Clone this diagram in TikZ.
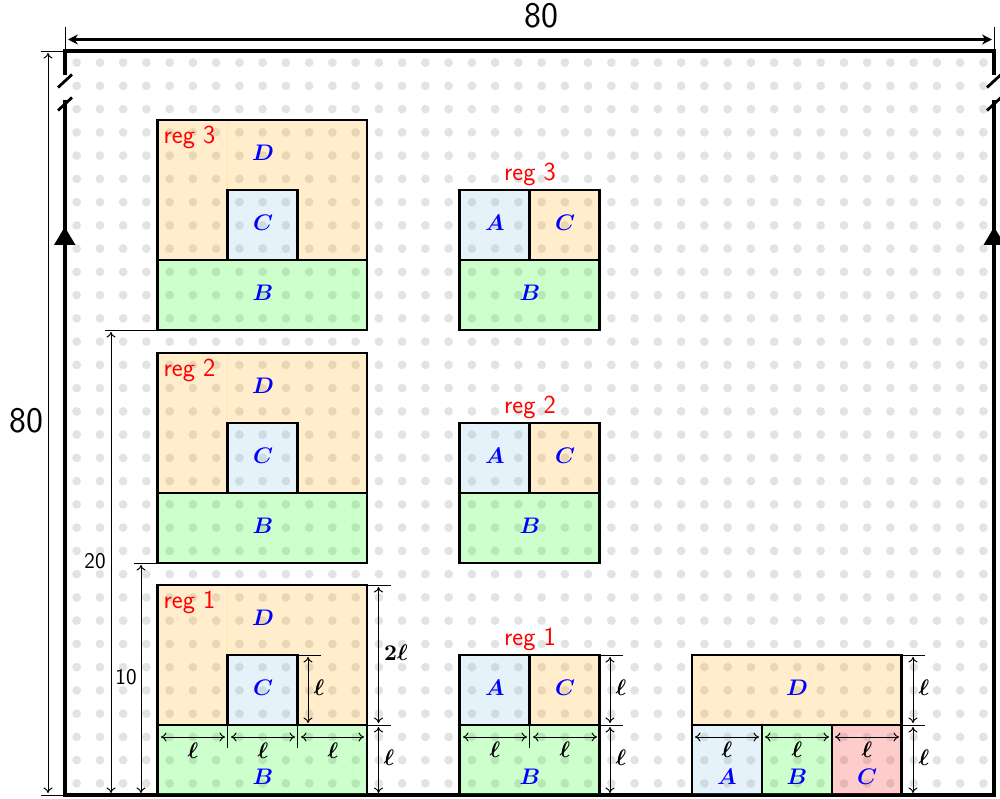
\documentclass[tikz,border=0pt]{standalone}
\usepackage{graphicx}
\usetikzlibrary{arrows.meta}
\definecolor{dotc}{HTML}{E3E3E3}
\definecolor{ablue}{RGB}{125,190,225}
\definecolor{aorange}{RGB}{255,165,0}
\tikzset{
  x=1pt,y=-1pt,
  frame/.style={line width=3.2pt,black},
  box/.style={draw=black,line width=2.1pt},
  fo/.style={fill=aorange,fill opacity=.2,draw=none},
  fb/.style={fill=ablue,fill opacity=.2,draw=none},
  fg/.style={fill=green,fill opacity=.2,draw=none},
  fr/.style={fill=red,fill opacity=.2,draw=none},
  ext/.style={line width=.9pt,black},
  dimen/.style={line width=1pt,black,{To[length=5.5pt,width=9pt]}-{To[length=5.5pt,width=9pt]}},
  big/.style={line width=2.4pt,black,{Stealth[length=10pt,width=10pt]}-{Stealth[length=10pt,width=10pt]}},
  let/.style={text=blue,font=\boldmath,inner sep=0pt},
  ell/.style={text=black,font=\boldmath,inner sep=0pt},
  reg/.style={text=red,font=\fontsize{26}{28}\selectfont\sffamily,inner sep=0pt},
  num/.style={text=black,font=\fontsize{22.5}{25}\selectfont\sffamily,inner sep=0pt},
  bignum/.style={text=black,font=\fontsize{36}{38}\selectfont\sffamily,inner sep=0pt},
}
\newcommand{\mbig}[1]{\scalebox{2.25}{$#1$}}
\newcommand{\wideblock}[3]{% #1 = label, #2 = top y, #3 = y offset of B
  \fill[fo] (157.5,#2) rectangle (227.5,#2+140);
  \fill[fo] (227.5,#2) rectangle (366.7,#2+70);
  \fill[fo] (297.5,#2+70) rectangle (366.7,#2+140);
  \fill[fb] (227.5,#2+70) rectangle (297.5,#2+140);
  \fill[fg] (157.5,#2+140) rectangle (366.7,#2+210);
  \draw[aorange!30,line width=.6pt] (227.5,#2) -- (227.5,#2+70);
  \draw[box] (157.5,#2) rectangle (366.7,#2+210);
  \draw[box] (157.5,#2+140) -- (366.7,#2+140);
  \draw[box] (227.5,#2+140) -- (227.5,#2+70) -- (297.5,#2+70) -- (297.5,#2+140);
  \node[reg] (w#1) at (189.5,#2+17) {reg #1};
  \node[let] (wd#1) at (263,#2+33) {\mbig{D}};
  \node[let] (wc#1) at (263,#2+103) {\mbig{C}};
  \node[let] (wb#1) at (263,#2+#3) {\mbig{B}};
}
\newcommand{\midblock}[3]{% #1 = label, #2 = top y, #3 = y offset of B
  \fill[fb] (459.5,#2) rectangle (529.5,#2+70);
  \fill[fo] (529.5,#2) rectangle (599.5,#2+70);
  \fill[fg] (459.5,#2+70) rectangle (599.5,#2+140);
  \draw[box] (459.5,#2) rectangle (599.5,#2+140);
  \draw[box] (459.5,#2+70) -- (599.5,#2+70);
  \draw[box] (529.5,#2) -- (529.5,#2+70);
  \node[reg] (m#1) at (530,#2-16) {reg #1};
  \node[let] (ma#1) at (495,#2+33) {\mbig{A}};
  \node[let] (mc#1) at (565,#2+33) {\mbig{C}};
  \node[let] (mb#1) at (530,#2+#3) {\mbig{B}};
}
\newcommand{\elllabel}[3]{\node[ell] (#1) at (#2,#3) {\mbig{\ell}};}
\begin{document}
\begin{tikzpicture}
\useasboundingbox (0,0) rectangle (1000,799);
\clip (0,0) rectangle (1000,799);
% dots
\foreach \i in {0,...,39}{
  \foreach \j in {0,...,31}{
    \fill[dotc] ({65+23.25*(\i+.5)},{51+23.25*(\j+.5)}) circle (4.4pt);
  }
}
% frame
\draw[frame] (65,75) -- (65,51) -- (994,51) -- (994,75);
\draw[frame] (65,100) -- (65,795) -- (994,795) -- (994,100);
\draw[line width=2.8pt] (58,87.5) -- (72,74.5);
\draw[line width=2.8pt] (58,110.5) -- (72,97.5);
\draw[line width=2.8pt] (987,87.5) -- (1001,74.5);
\draw[line width=2.8pt] (987,110.5) -- (1001,97.5);
\fill (54,245) -- (75.5,245) -- (64.7,227) -- cycle;
\fill (983.5,245) -- (1005,245) -- (994,227) -- cycle;
% outer dimensions
\draw[ext] (65,27) -- (65,51);
\draw[ext] (994,27) -- (994,51);
\draw[big] (68,39.5) -- (992,39.5);
\node[bignum] (top80) at (541,16) {80};
\draw[ext] (40.5,51) -- (65,51);
\draw[ext] (40.5,795) -- (65,795);
\draw[dimen] (48,53) -- (48,793);
\node[bignum] (left80) at (26,421) {80};
% blocks
\wideblock{3}{120}{173}
\wideblock{2}{353}{173}
\wideblock{1}{585}{192}
\midblock{3}{190}{103}
\midblock{2}{423}{103}
\midblock{1}{655}{122}
% right block
\fill[fo] (692,655) rectangle (901.5,725);
\fill[fb] (692,725) rectangle (762,795);
\fill[fg] (762,725) rectangle (832,795);
\fill[fr] (832,725) rectangle (901.5,795);
\draw[box] (692,655) rectangle (901.5,795);
\draw[box] (692,725) -- (901.5,725);
\draw[box] (762,725) -- (762,795);
\draw[box] (832,725) -- (832,795);
\node[let] (rd) at (797,688) {\mbig{D}};
\node[let] (ra) at (727,777) {\mbig{A}};
\node[let] (rb) at (797,777) {\mbig{B}};
\node[let] (rc) at (867,777) {\mbig{C}};
% dims: 20 and 10
\draw[ext] (105,330) -- (157.5,330);
\draw[dimen] (111,332) -- (111,793);
\draw[ext] (134,563) -- (157.5,563);
\draw[dimen] (141,565) -- (141,793);
\node[num] (n20) at (95,561) {20};
\node[num] (n10) at (126,677) {10};
% dims at wide block 1
\draw[ext] (366.7,585) -- (391,585);
\draw[ext] (366.7,725) -- (391,725);
\draw[dimen] (378.5,587) -- (378.5,723);
\draw[dimen] (378.5,727) -- (378.5,793);
\node[ell] (l2) at (396,653) {\mbig{2\ell}};
\elllabel{l3}{389}{758}
\draw[ext] (297.5,655) -- (321,655);
\draw[dimen] (308,657) -- (308,723);
\elllabel{l4}{319}{688}
\draw[ext,line width=1.5pt] (297.5,725) -- (297.5,748);
\draw[ext,line width=1.5pt] (227.5,725) -- (227.5,748);
\draw[dimen] (161,737) -- (225,737);
\draw[dimen] (231,737) -- (295,737);
\draw[dimen] (301,737) -- (364,737);
\elllabel{l5}{193}{751}
\elllabel{l6}{263}{751}
\elllabel{l7}{333}{751}
% dims at mid block 1
\draw[ext] (599.5,655) -- (623,655);
\draw[ext] (599.5,725) -- (623,725);
\draw[dimen] (610,657) -- (610,723);
\draw[dimen] (610,727) -- (610,793);
\elllabel{l8}{621}{688}
\elllabel{l9}{621}{758}
\draw[ext,line width=1.5pt] (529.5,725) -- (529.5,748);
\draw[dimen] (463,737) -- (527,737);
\draw[dimen] (533,737) -- (597,737);
\elllabel{l10}{495}{750}
\elllabel{l11}{565}{750}
% dims at right block
\draw[ext] (901.5,655) -- (925,655);
\draw[ext] (901.5,725) -- (925,725);
\draw[dimen] (913,657) -- (913,723);
\draw[dimen] (913,727) -- (913,793);
\elllabel{l12}{924}{688}
\elllabel{l13}{924}{758}
\draw[dimen] (695,737) -- (759,737);
\draw[dimen] (765,737) -- (829,737);
\draw[dimen] (835,737) -- (899,737);
\elllabel{l14}{727}{750}
\elllabel{l15}{797}{750}
\elllabel{l16}{867}{750}
\end{tikzpicture}
\end{document}
